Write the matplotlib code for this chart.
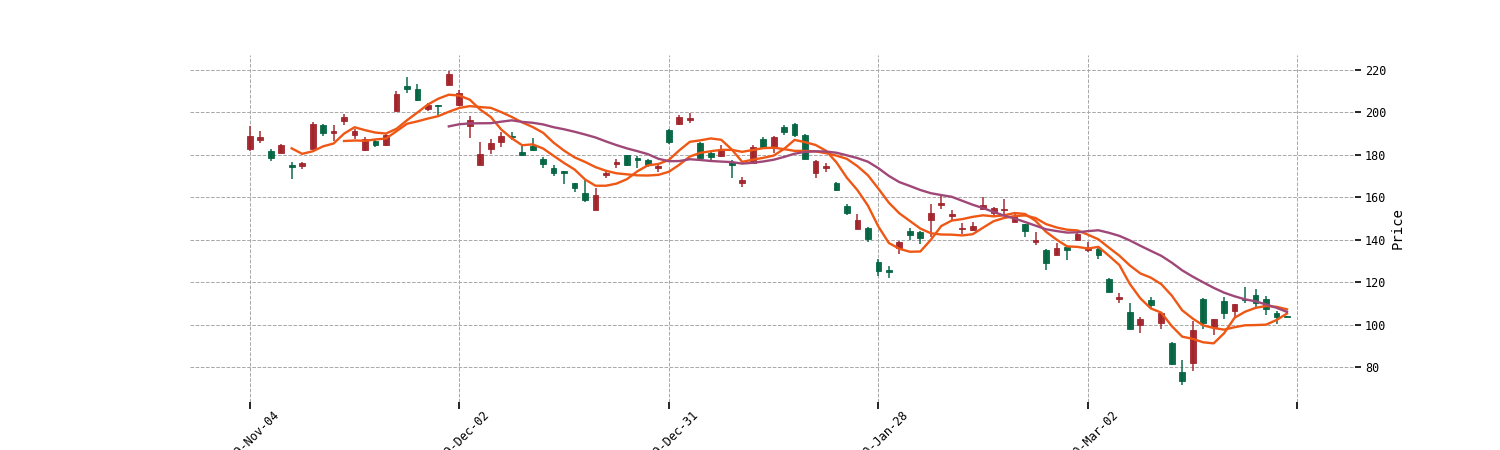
import numpy as np
import pandas as pd
import matplotlib
matplotlib.use("Agg")
import matplotlib.pyplot as plt

plt.rcParams['font.family'] = ['DejaVu Sans Mono', 'DejaVu Sans']

opens = [182.6, 187.0, 182.0, 181.0, 175.4, 174.7, 182.9, 194.2, 190.1, 196.1,
         189.5, 182.3, 186.4, 184.5, 200.8, 212.5, 210.9, 201.8, 203.3, 213.1,
         203.5, 193.8, 175.2, 182.8, 185.9, 189.0, 181.5, 184.1, 178.0, 173.8,
         172.2, 166.7, 162.0, 154.1, 170.6, 175.6, 179.9, 178.7, 177.4, 174.0,
         191.7, 194.5, 196.4, 185.4, 181.0, 179.4, 176.6, 166.8, 176.0, 187.3,
         183.3, 193.3, 194.6, 189.5, 171.6, 173.8, 166.8, 155.9, 145.2, 145.5,
         129.3, 125.9, 135.9, 144.1, 143.8, 149.4, 156.3, 151.1, 145.1, 144.8,
         154.5, 152.6, 153.9, 148.5, 147.3, 138.8, 135.3, 132.8, 136.5, 140.1,
         135.0, 135.8, 121.6, 111.9, 105.9, 99.9, 111.6, 100.9, 91.1, 77.6,
         81.7, 112.2, 99.0, 111.3, 106.2, 112.0, 114.1, 111.9, 105.3, 103.8]
highs = [193.6, 191.1, 182.6, 185.1, 176.6, 176.6, 195.5, 194.5, 193.9, 199.3,
         192.3, 188.3, 187.6, 190.1, 209.9, 216.9, 213.4, 204.3, 203.7, 219.7,
         210.5, 198.5, 186.2, 187.5, 190.6, 190.8, 184.6, 188.0, 179.2, 175.0,
         172.4, 166.9, 168.0, 164.2, 173.0, 178.0, 180.1, 179.6, 178.0, 175.9,
         192.3, 198.9, 199.6, 186.1, 181.7, 184.8, 177.6, 169.6, 184.8, 188.3,
         188.9, 194.3, 195.0, 189.8, 177.6, 176.0, 167.0, 156.8, 152.1, 145.8,
         130.9, 127.5, 139.5, 145.4, 144.0, 157.0, 160.5, 153.9, 147.9, 148.2,
         160.1, 155.5, 159.1, 153.2, 147.5, 143.5, 135.5, 138.5, 136.7, 143.0,
         139.0, 136.0, 121.8, 114.7, 110.3, 103.7, 113.1, 105.9, 91.8, 83.3,
         101.8, 112.5, 102.8, 112.8, 109.7, 117.9, 116.9, 113.5, 106.2, 103.9]
lows = [182.0, 185.7, 177.0, 180.8, 168.5, 173.2, 182.6, 188.9, 186.7, 193.9,
        187.6, 182.0, 183.5, 184.3, 200.6, 209.0, 205.2, 200.8, 198.9, 212.8,
        203.0, 187.8, 175.0, 180.2, 183.7, 186.8, 179.7, 182.0, 173.8, 170.2,
        166.1, 162.6, 157.9, 153.8, 169.0, 173.9, 174.8, 173.9, 174.5, 171.8,
        185.2, 194.3, 194.9, 178.2, 177.6, 179.2, 168.9, 164.7, 175.8, 183.2,
        180.8, 189.2, 188.3, 177.9, 169.0, 171.9, 163.1, 151.5, 144.9, 138.7,
        123.0, 121.8, 133.1, 139.9, 137.9, 141.4, 154.5, 149.5, 142.8, 144.1,
        153.9, 151.3, 151.0, 148.3, 141.3, 137.3, 125.9, 132.6, 130.6, 139.9,
        134.4, 130.7, 115.3, 110.3, 97.8, 95.9, 107.8, 97.8, 80.8, 71.7,
        78.3, 97.8, 94.9, 102.5, 103.7, 110.3, 108.1, 104.3, 100.3, 103.6]
closes = [188.9, 188.6, 178.7, 184.8, 174.4, 176.0, 194.5, 190.5, 191.4, 197.7,
          191.1, 187.6, 184.8, 189.2, 208.7, 211.2, 205.9, 203.7, 203.0, 218.1,
          209.1, 196.3, 180.2, 185.6, 188.7, 188.4, 179.9, 182.2, 175.8, 171.5,
          171.5, 164.5, 158.8, 161.0, 171.5, 176.5, 175.0, 177.4, 175.0, 174.6,
          186.1, 197.7, 197.4, 178.5, 179.1, 182.9, 175.0, 168.1, 183.5, 183.5,
          188.3, 190.8, 189.2, 178.2, 176.9, 174.7, 163.3, 152.7, 149.3, 140.5,
          125.2, 124.6, 139.1, 142.3, 141.0, 152.6, 157.3, 152.0, 145.7, 146.3,
          156.3, 154.8, 154.5, 151.0, 144.1, 140.1, 129.0, 136.2, 135.0, 142.8,
          136.3, 132.9, 115.3, 113.1, 98.1, 102.5, 109.1, 105.3, 81.4, 73.2,
          97.4, 100.9, 102.8, 105.3, 109.7, 111.6, 110.0, 107.2, 103.4, 103.7]

mav_periods = [5, 10, 20]
tick_labels = ["2019-Nov-04", "2019-Dec-02", "2019-Dec-31", "2020-Jan-28", "2020-Mar-02", ""]

up_color = '#a02128'
down_color = '#006340'
mav_colors = ['#ef5714', '#ef5714', '#9f4878']

o = np.array(opens); h = np.array(highs); l = np.array(lows); c = np.array(closes)
x = np.arange(len(c))
up = c >= o
colors = np.where(up, up_color, down_color)

fig = plt.figure(figsize=(15, 4.5), dpi=100)
ax = fig.add_axes([0.1267, 0.1067, 0.7767, 0.7711])

ax.vlines(x, l, h, colors=colors, linewidth=1.1, alpha=0.95, zorder=3)
bottoms = np.minimum(o, c)
heights = np.maximum(np.abs(c - o), 0.15)
ax.bar(x, heights, bottom=bottoms, width=0.55, color=colors, edgecolor=colors,
       linewidth=0.6, alpha=0.95, zorder=4)

cs = pd.Series(c)
for p, col in zip(mav_periods, mav_colors):
    ma = cs.rolling(p).mean()
    ax.plot(x, ma.values, color=col, linewidth=1.7, zorder=5)

ax.set_xlim(-5.7, 105.5)
ax.set_ylim(63.5, 227.1)

ax.set_xticks(np.arange(0, 101, 20))
ax.set_xticklabels(tick_labels, rotation=45, fontsize=8.5)
ax.set_yticks(np.arange(80, 221, 20))
ax.yaxis.tick_right()
ax.yaxis.set_label_position('right')
ax.set_ylabel('Price', fontsize=10, labelpad=3)
ax.tick_params(axis='y', labelsize=8.5, length=4, width=1.2, direction='out', pad=3)
ax.tick_params(axis='x', length=5, width=1.2, direction='out', pad=0)

for s in ax.spines.values():
    s.set_visible(False)
ax.grid(True, linestyle='--', color='#a8a8a8', linewidth=0.7)
ax.set_axisbelow(True)

fig.savefig('out.png', dpi=100)
